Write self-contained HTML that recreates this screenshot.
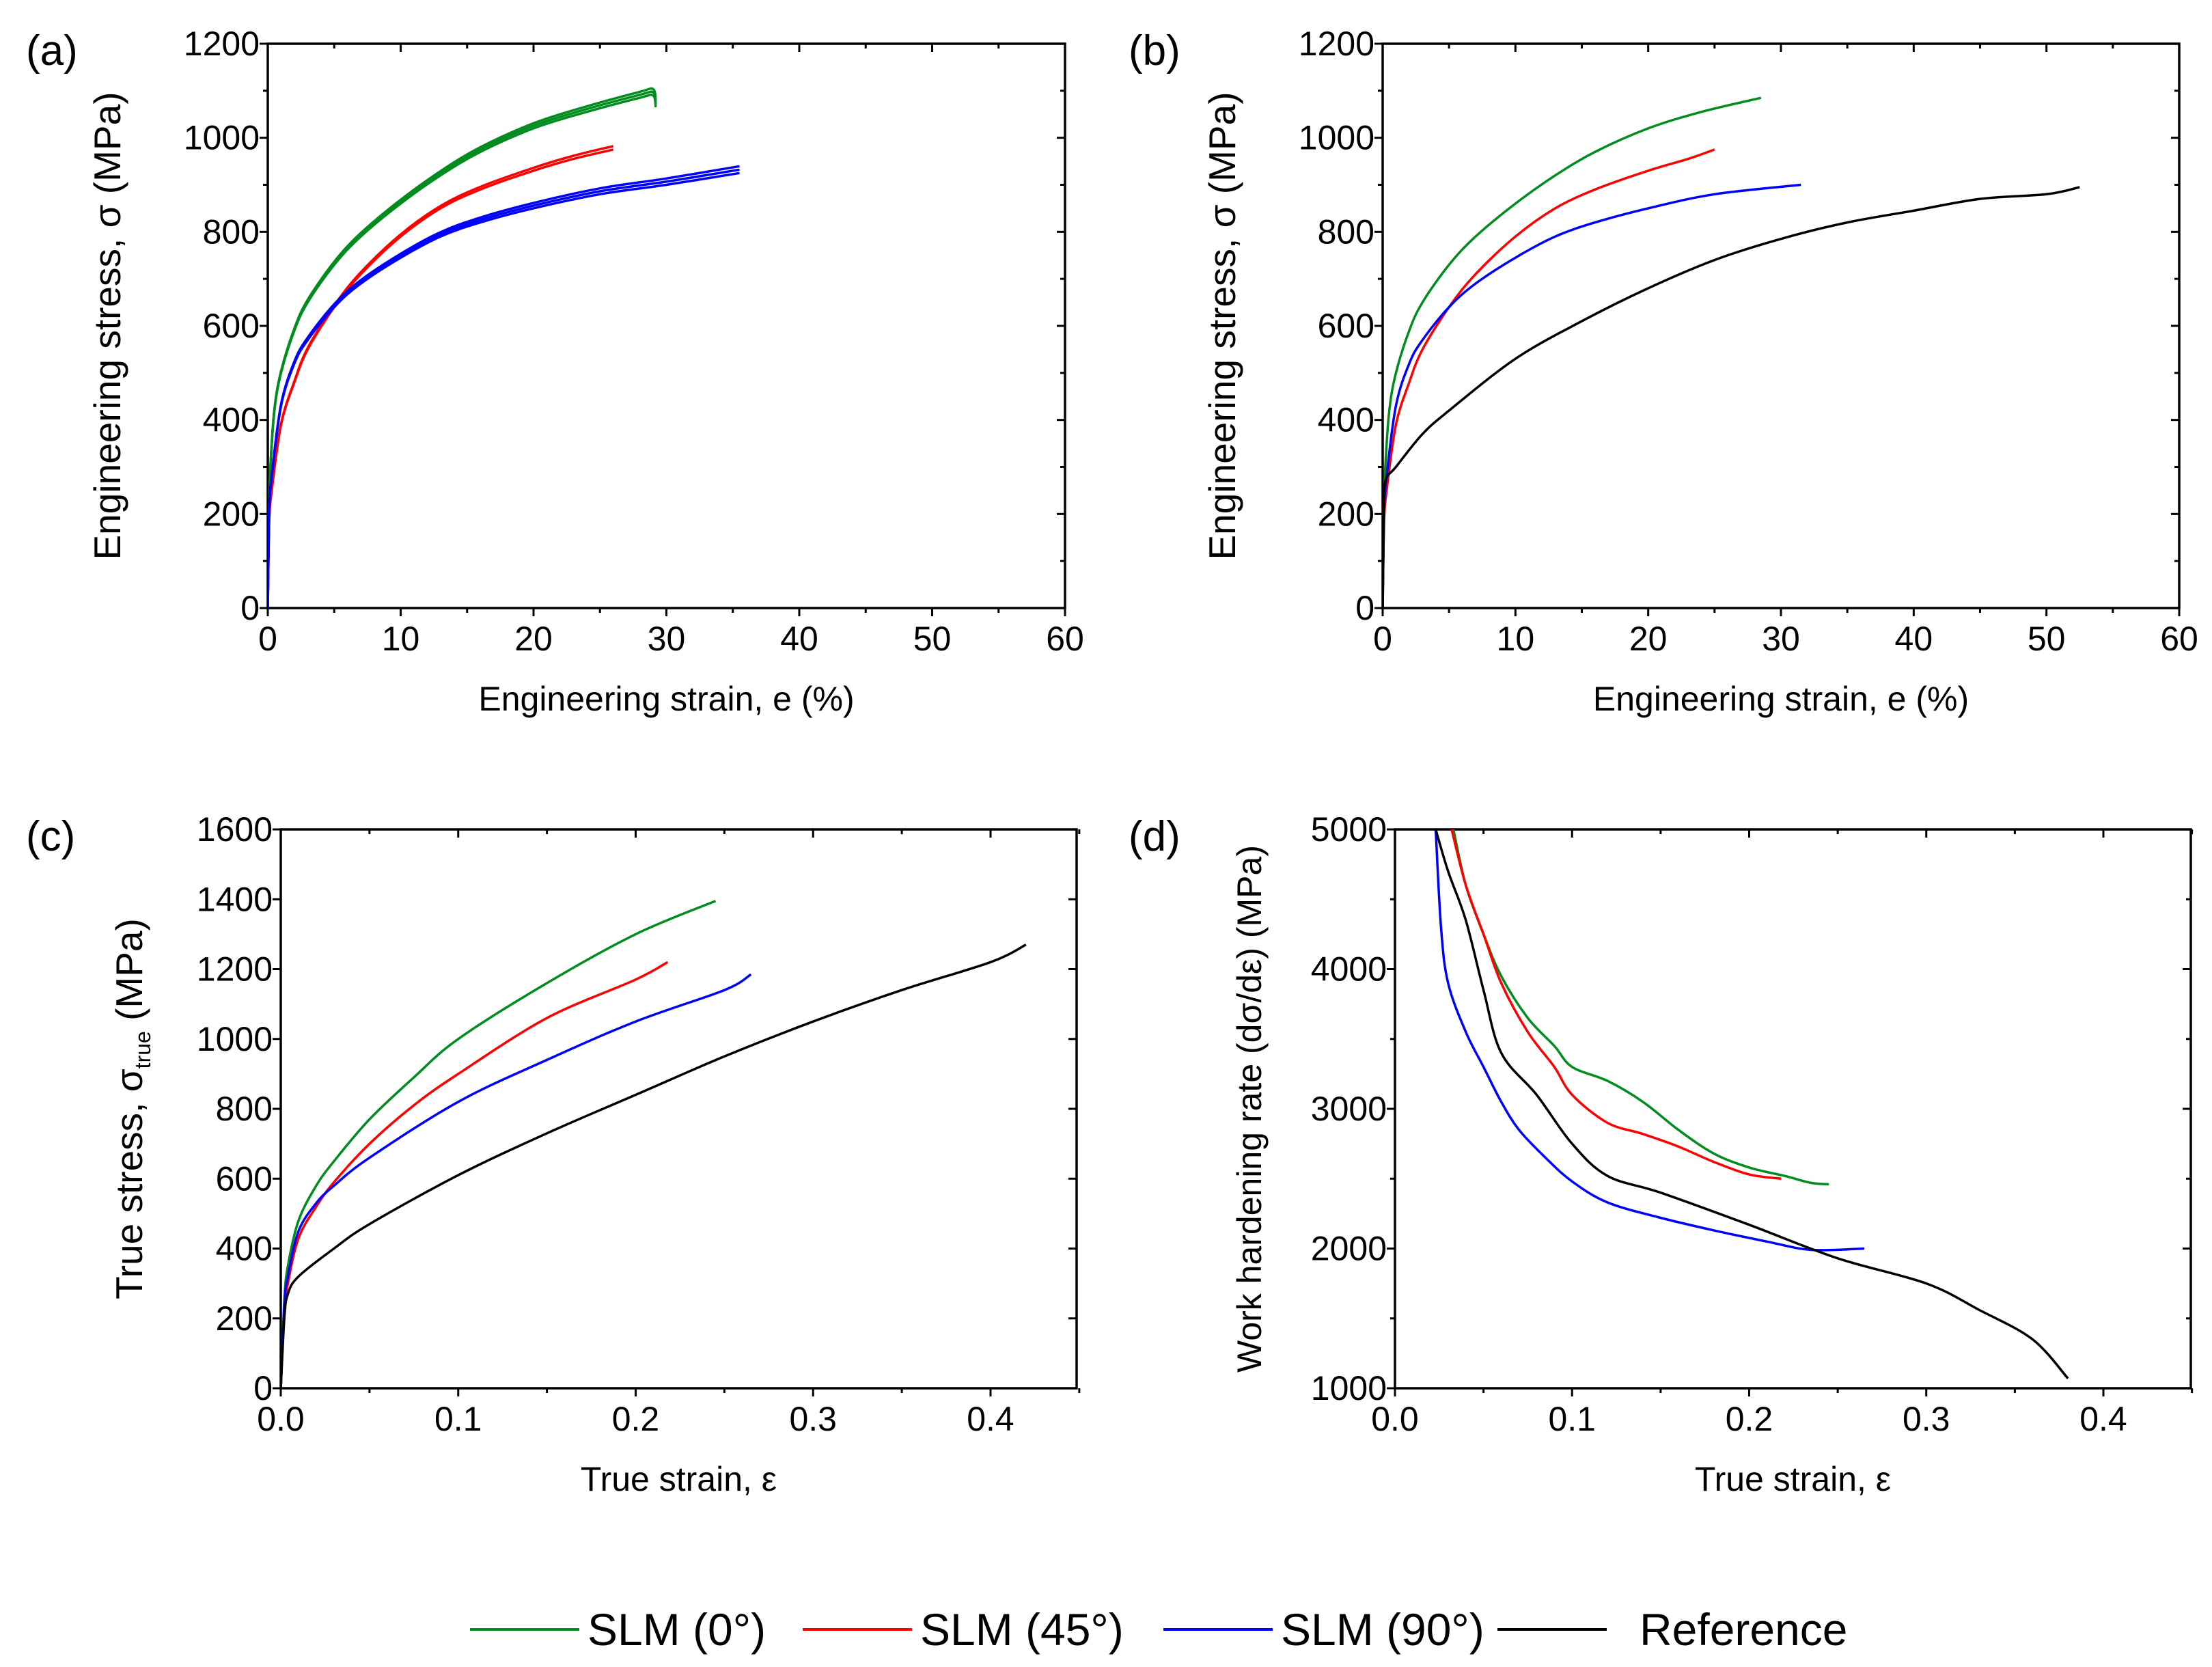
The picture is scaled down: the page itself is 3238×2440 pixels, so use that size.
<!DOCTYPE html>
<html><head><meta charset="utf-8"><style>
html,body{margin:0;padding:0;background:#fff}
svg{display:block;font-family:"Liberation Sans",Arial,sans-serif}
</style></head><body>
<svg id="fig" width="3238" height="2440" viewBox="0 0 3238 2440" xmlns="http://www.w3.org/2000/svg"></svg>
<script>
// ---- data ----
const aGreenX=[0,0.1,0.2,0.5,1,2,3,5,7,10,13,16,20,24,28,29,29.2];
const aGreenY=[0,200,300,420,500,590,650,730,790,860,920,970,1020,1055,1085,1090,1065];
const aRedX=[0,0.1,0.3,1,2,3,5,7,10,13,16,20,23,26];
const aRedY=[0,180,250,390,480,550,640,710,790,850,890,930,955,975];
const aBlueX=[0,0.1,0.3,1,2,3,5,7,10,13,16,20,25,30,35.5];
const aBlueY=[0,200,280,430,520,570,640,690,745,790,820,850,880,900,925];
const bGreenX=[0,0.1,0.2,0.5,1,2,3,5,7,10,13,16,20,24,28.5];
const bGreenY=[0,200,300,420,500,590,650,730,790,860,920,970,1020,1055,1085];
const bRedX=[0,0.1,0.3,1,2,3,5,7,10,13,16,20,23,25];
const bRedY=[0,180,250,390,480,550,640,710,790,850,890,930,955,975];
const bBlueX=[0,0.1,0.3,1,2,3,5,7,10,13,16,20,25,31.5];
const bBlueY=[0,200,280,430,520,570,640,690,745,790,820,850,880,900];
const bBlackX=[0,0.1,0.2,1,3,5,10,15,20,25,30,35,40,45,50,52.5];
const bBlackY=[0,200,270,300,370,420,530,610,680,740,785,820,845,870,880,895];
const cGreenX=[0,0.002,0.004,0.01,0.02,0.03,0.05,0.075,0.1,0.15,0.2,0.245];
const cGreenY=[0,250,350,480,580,650,770,890,1000,1160,1300,1395];
const cRedX=[0,0.002,0.004,0.01,0.02,0.03,0.05,0.075,0.1,0.15,0.2,0.218];
const cRedY=[0,220,300,430,520,590,700,810,900,1060,1170,1220];
const cBlueX=[0,0.002,0.004,0.01,0.02,0.03,0.05,0.1,0.15,0.2,0.25,0.265];
const cBlueY=[0,240,320,450,530,580,660,820,940,1050,1140,1185];
const cBlackX=[0,0.002,0.004,0.01,0.03,0.05,0.1,0.15,0.2,0.25,0.3,0.35,0.4,0.42];
const cBlackY=[0,200,270,320,400,470,610,730,840,950,1050,1140,1220,1270];
const dGreenX=[0.033,0.04,0.05,0.06,0.075,0.09,0.1,0.12,0.14,0.16,0.18,0.2,0.22,0.235,0.245];
const dGreenY=[5000,4600,4250,3950,3650,3450,3300,3200,3050,2850,2680,2580,2520,2470,2460];
const dRedX=[0.032,0.04,0.05,0.06,0.075,0.09,0.1,0.12,0.14,0.16,0.18,0.2,0.218];
const dRedY=[5000,4600,4250,3900,3550,3300,3100,2900,2820,2730,2620,2530,2500];
const dBlueX=[0.023,0.026,0.03,0.04,0.05,0.06,0.07,0.085,0.1,0.12,0.15,0.18,0.21,0.235,0.265];
const dBlueY=[5000,4300,3900,3550,3300,3050,2850,2650,2480,2330,2220,2130,2050,1990,2000];
const dBlackX=[0.023,0.03,0.04,0.05,0.06,0.08,0.1,0.12,0.15,0.2,0.25,0.3,0.33,0.36,0.38];
const dBlackY=[5000,4700,4350,3850,3400,3100,2750,2520,2400,2170,1930,1750,1560,1350,1070];
const engXTicks=[0,10,20,30,40,50,60];
const engYTicks=[0,200,400,600,800,1000,1200];
const trueXTicks=[0,0.1,0.2,0.3,0.4];
const cYTicks=[0,200,400,600,800,1000,1200,1400,1600];
const dYTicks=[1000,2000,3000,4000,5000];
const legendLabels=["SLM (0°)","SLM (45°)","SLM (90°)","Reference"];

const G="#008C1E",R="#FF0000",B="#0000FF",K="#000000";
const NS="http://www.w3.org/2000/svg";
const svg=document.getElementById('fig');
function mk(tag,attrs,parent){const e=document.createElementNS(NS,tag);for(const k in attrs)e.setAttribute(k,attrs[k]);(parent||svg).appendChild(e);return e;}
function smooth(pts){
  let d='M'+pts[0][0].toFixed(1)+','+pts[0][1].toFixed(1);
  for(let i=0;i<pts.length-1;i++){
    const p0=pts[Math.max(0,i-1)],p1=pts[i],p2=pts[i+1],p3=pts[Math.min(pts.length-1,i+2)];
    const c1=[p1[0]+(p2[0]-p0[0])/6,p1[1]+(p2[1]-p0[1])/6];
    const c2=[p2[0]-(p3[0]-p1[0])/6,p2[1]-(p3[1]-p1[1])/6];
    d+=` C${c1[0].toFixed(1)},${c1[1].toFixed(1)} ${c2[0].toFixed(1)},${c2[1].toFixed(1)} ${p2[0].toFixed(1)},${p2[1].toFixed(1)}`;
  }
  return d;
}

function panel(o){
  const g=mk('g',{});
  
  
  const sx=v=>o.px0+(v-o.x0)/(o.x1-o.x0)*(o.px1-o.px0);
  const sy=v=>o.py0-(v-o.y0)/(o.y1-o.y0)*(o.py0-o.py1);
  const right=o.pr, top=o.py1;
  const frame=mk('rect',{x:o.px0,y:top,width:right-o.px0,height:o.py0-top,fill:'none',stroke:'#000','stroke-width':3.5},g);
  
  
  for(let v=o.x0;v<=o.xmax+1e-9;v+=o.xminor){
    const x=sx(v);const major=Math.abs(Math.round(v/o.xmajor)*o.xmajor-v)<1e-9;const L=major?12:7;
    mk('line',{x1:x,x2:x,y1:o.py0,y2:o.py0+L,stroke:'#000','stroke-width':3},g);
    mk('line',{x1:x,x2:x,y1:top,y2:top+L,stroke:'#000','stroke-width':3},g);
  }
  for(let v=o.y0;v<=o.y1+1e-9;v+=o.yminor){
    const y=sy(v);const major=Math.abs(Math.round(v/o.ymajor)*o.ymajor-v)<1e-9;const L=major?12:7;
    mk('line',{x1:o.px0-L,x2:o.px0,y1:y,y2:y,stroke:'#000','stroke-width':3},g);
    mk('line',{x1:right-L,x2:right,y1:y,y2:y,stroke:'#000','stroke-width':3},g);
  }
  o.xt.forEach(v=>{const t=mk('text',{x:sx(v),y:o.py0+62,'font-size':50,'text-anchor':'middle'},g);t.textContent=o.xf(v);
    
    });
  o.yt.forEach(v=>{const t=mk('text',{x:o.px0-12,y:sy(v)+17,'font-size':50,'text-anchor':'end'},g);t.textContent=String(v);
    
    });
  const xl=mk('text',{x:(o.px0+right)/2,y:o.py0+150,'font-size':50,'text-anchor':'middle'},g);xl.innerHTML=o.xlab;
  
  
  const yl=mk('text',{x:0,y:0,'font-size':o.yfs||55,'text-anchor':'middle',transform:`translate(${o.ylx},${(o.py0+top)/2}) rotate(-90)`},g);yl.innerHTML=o.ylab;
  
  
  const pl=mk('text',{x:o.lx,y:o.ly,'font-size':62},g);pl.textContent='('+o.id+')';
  
  
  const cid='clip'+o.id;
  const cp=mk('clipPath',{id:cid},g);mk('rect',{x:o.px0,y:top,width:right-o.px0,height:o.py0-top},cp);
  o.series.forEach(s=>{
    for(let k=0;k<(s.n||1);k++){
      const off=k*5;
      const pts=s.x.map((v,i)=>[sx(v),sy(s.y[i])-off*(i/(s.x.length-1))]);
      const p=mk('path',{d:smooth(pts),fill:'none',stroke:s.c,'stroke-width':3.5,'stroke-linejoin':'round','clip-path':`url(#${cid})`},g);
      
      
    }
  });
}
const engY='Engineering stress, σ (MPa)', engX='Engineering strain, e (%)';
panel({id:'a',px0:392,px1:1559,pr:1559,x0:0,x1:60,xmax:60,py0:890,py1:64,y0:0,y1:1200,xminor:5,xmajor:10,yminor:100,ymajor:200,
 xt:engXTicks,yt:engYTicks,xf:v=>String(v),xlab:engX,ylab:engY,ylx:176,lx:38,ly:95,
 series:[{name:'slm-0',x:aGreenX,y:aGreenY,c:G,n:3},{name:'slm-45',x:aRedX,y:aRedY,c:R,n:2},{name:'slm-90',x:aBlueX,y:aBlueY,c:B,n:3}]});
panel({id:'b',px0:2024,px1:3190,pr:3190,x0:0,x1:60,xmax:60,py0:890,py1:64,y0:0,y1:1200,xminor:5,xmajor:10,yminor:100,ymajor:200,
 xt:engXTicks,yt:engYTicks,xf:v=>String(v),xlab:engX,ylab:engY,ylx:1808,lx:1652,ly:95,
 series:[{name:'slm-0',x:bGreenX,y:bGreenY,c:G},{name:'slm-45',x:bRedX,y:bRedY,c:R},{name:'slm-90',x:bBlueX,y:bBlueY,c:B},{name:'reference',x:bBlackX,y:bBlackY,c:K}]});
panel({id:'c',px0:411,px1:1450,pr:1576,x0:0,x1:0.4,xmax:0.45,py0:2032,py1:1214,y0:0,y1:1600,xminor:0.05,xmajor:0.1,yminor:200,ymajor:200,
 xt:trueXTicks,yt:cYTicks,xf:v=>v.toFixed(1),xlab:'True strain, ε',ylab:'True stress, σ<tspan font-size="32" dy="12">true</tspan><tspan dy="-12"> (MPa)</tspan>',ylx:208,lx:38,ly:1245,
 series:[{name:'slm-0',x:cGreenX,y:cGreenY,c:G},{name:'slm-45',x:cRedX,y:cRedY,c:R},{name:'slm-90',x:cBlueX,y:cBlueY,c:B},{name:'reference',x:cBlackX,y:cBlackY,c:K}]});
panel({id:'d',px0:2042,px1:3079,pr:3207,x0:0,x1:0.4,xmax:0.45,py0:2032,py1:1214,y0:1000,y1:5000,xminor:0.05,xmajor:0.1,yminor:500,ymajor:1000,
 xt:trueXTicks,yt:dYTicks,xf:v=>v.toFixed(1),xlab:'True strain, ε',ylab:'Work hardening rate (dσ/dε) (MPa)',yfs:50,ylx:1846,lx:1652,ly:1245,
 series:[{name:'slm-0',x:dGreenX,y:dGreenY,c:G},{name:'slm-45',x:dRedX,y:dRedY,c:R},{name:'slm-90',x:dBlueX,y:dBlueY,c:B},{name:'reference',x:dBlackX,y:dBlackY,c:K}]});
const lg=mk('g',{});


const lcols=[G,R,B,K], lx=[688,1175,1703,2192], ltx=[860,1347,1875,2400];
legendLabels.forEach((t,i)=>{
  const e=mk('g',{},lg);
  
  
  mk('line',{x1:lx[i],x2:lx[i]+160,y1:2385,y2:2385,stroke:lcols[i],'stroke-width':4},e);
  const tx=mk('text',{x:ltx[i],y:2408,'font-size':66},e);tx.textContent=t;
});
</script>
</body></html>
